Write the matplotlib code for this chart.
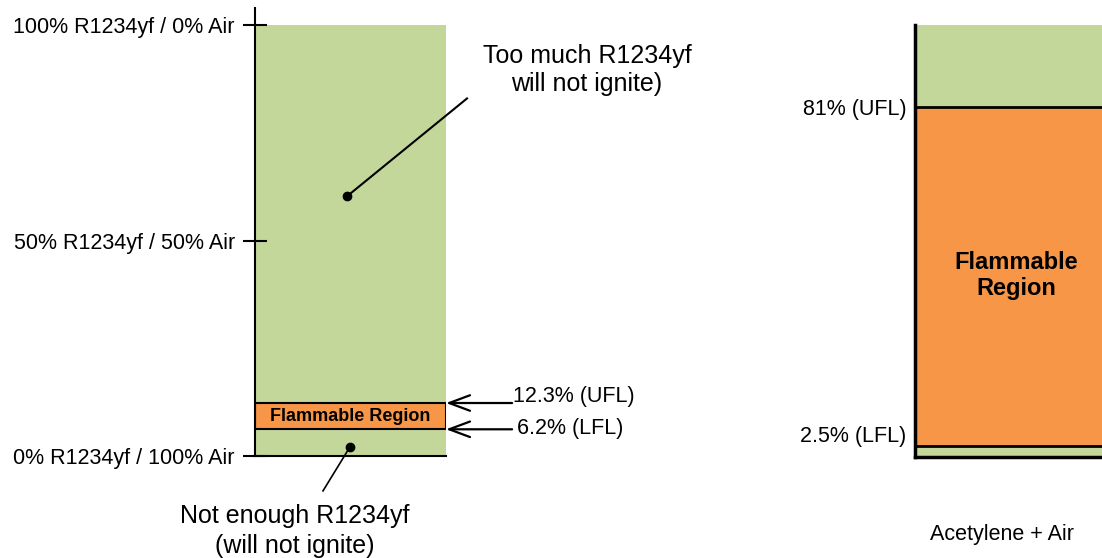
import matplotlib.pyplot as plt
import matplotlib.transforms as mtransforms

plt.rcParams['font.family'] = ['Liberation Sans', 'DejaVu Sans']

# values (percent by volume in air)
r1234yf_lfl = 6.2
r1234yf_ufl = 12.3
acetylene_lfl = 2.5
acetylene_ufl = 81

left_ticks = [0, 50, 100]
left_ticklabels = ['0% R1234yf / 100% Air', '50% R1234yf / 50% Air',
                   '100% R1234yf / 0% Air']
right_ticklabels = ['2.5% (LFL)', '81% (UFL)']

green = '#C4D79B'
orange = '#F79646'

W, H = 1102, 558
fig = plt.figure(figsize=(W / 100, H / 100), dpi=100)

# ---- left panel: R1234yf ----
ax1 = fig.add_axes([255 / W, (H - 456) / H, 191 / W, 448 / H])
ax1.set_xlim(-0.5, 0.5)
ax1.set_ylim(0, 104)
ax1.bar(0, 100, width=1, color=green, zorder=1)
ax1.bar(0, r1234yf_ufl - r1234yf_lfl, bottom=r1234yf_lfl, width=1,
        color=orange, edgecolor='black', linewidth=1.5, zorder=2)
ax1.text(0, (r1234yf_lfl + r1234yf_ufl) / 2, 'Flammable Region', ha='center',
         va='center', fontsize=13, fontweight='bold', zorder=3)

for s in ['top', 'right']:
    ax1.spines[s].set_visible(False)
ax1.spines['left'].set_linewidth(1.5)
ax1.spines['bottom'].set_linewidth(1.5)
ax1.set_xticks([])
ax1.set_yticks(left_ticks)
ax1.set_yticklabels(left_ticklabels, fontsize=15.5)
ax1.tick_params(axis='y', direction='inout', length=17, width=1.5, pad=6)

# limit arrows
for val, lab, dy in [(r1234yf_ufl, '12.3% (UFL)', 1.4), (r1234yf_lfl, '6.2% (LFL)', 0.1)]:
    ax1.annotate('', xy=(0.5, val), xytext=(0.846, val),
                 arrowprops=dict(arrowstyle='->,head_length=0.75,head_width=0.28',
                                 mutation_scale=20, lw=1.6, color='black',
                                 shrinkA=0, shrinkB=0),
                 annotation_clip=False)
    ax1.text(0.85 + (0.02 if val < 10 else 0), val + dy, lab, fontsize=15.5,
             ha='left', va='center', clip_on=False)

# callouts
ax1.plot([-0.018], [60.3], 'o', color='black', ms=6, zorder=4)
ax1.plot([-0.018, 0.61], [60.3, 83], color='black', lw=1.5, zorder=4,
         clip_on=False)
ax1.text(1.238, 89.6, 'Too much R1234yf\nwill not ignite)', fontsize=18,
         ha='center', va='center', linespacing=1.25)

ax1.plot([-0.003], [2.1], 'o', color='black', ms=6, zorder=4)
ax1.plot([-0.003, -0.144], [2.1, -8.1], color='black', lw=1.2, zorder=4,
         clip_on=False)
ax1.text(-0.29, -17.4, 'Not enough R1234yf\n(will not ignite)', fontsize=18,
         ha='center', va='center', linespacing=1.3, clip_on=False)

# ---- right panel: acetylene ----
ax2 = fig.add_axes([915 / W, (H - 457) / H, 202 / W, 432 / H])
ax2.set_xlim(-0.5, 0.5)
ax2.set_ylim(0, 100)
ax2.bar(0, 100, width=1, color=green, zorder=1)
ax2.bar(0, acetylene_ufl - acetylene_lfl, bottom=acetylene_lfl, width=1,
        color=orange, edgecolor='black', linewidth=2, zorder=2)
ax2.text(0, 42, 'Flammable\nRegion', ha='center', va='center', fontsize=17,
         fontweight='bold', linespacing=1.2)
for s in ['top', 'right']:
    ax2.spines[s].set_visible(False)
ax2.spines['left'].set_linewidth(2.5)
ax2.spines['bottom'].set_linewidth(2.5)
ax2.set_xticks([-0.07])
ax2.set_xticklabels(['Acetylene + Air'], fontsize=15.5)
ax2.tick_params(axis='x', length=0, pad=48)
ax2.set_yticks([acetylene_lfl, acetylene_ufl])
ax2.set_yticklabels(right_ticklabels, fontsize=15.5)
ax2.tick_params(axis='y', length=0, pad=6)
# nudge the LFL label up a little, as in the original
lbl = ax2.get_yticklabels()[0]
lbl.set_transform(lbl.get_transform() +
                  mtransforms.ScaledTranslation(0, 12 / 100, fig.dpi_scale_trans))

fig.savefig('out.png', dpi=100)
